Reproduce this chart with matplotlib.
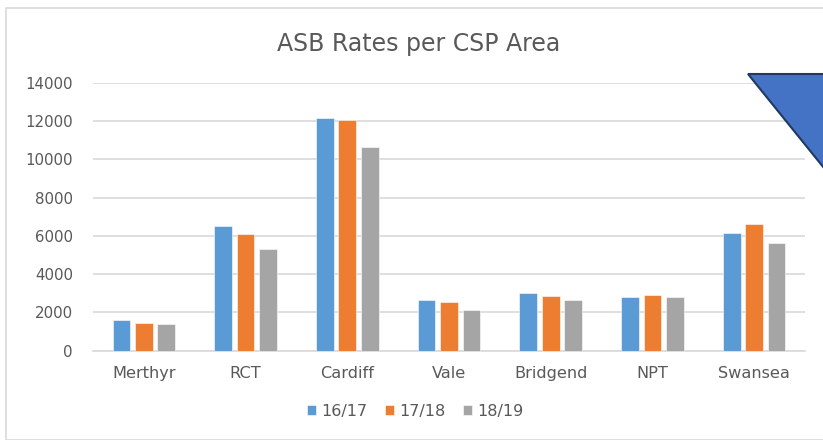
import numpy as np
import matplotlib.pyplot as plt
from matplotlib.patches import Polygon, Rectangle

areas = ["Merthyr", "RCT", "Cardiff", "Vale", "Bridgend", "NPT", "Swansea"]
y1617 = [1625, 6500, 12150, 2640, 3000, 2800, 6150]
y1718 = [1470, 6100, 12040, 2550, 2850, 2900, 6600]
y1819 = [1415, 5330, 10630, 2130, 2650, 2800, 5650]
series = ["16/17", "17/18", "18/19"]
colors = ["#5B9BD5", "#ED7D31", "#A5A5A5"]
yticks = [0, 2000, 4000, 6000, 8000, 10000, 12000, 14000]

plt.rcParams['font.family'] = ['DejaVu Sans']
txt = "#595959"
grid = "#D9D9D9"

W, H = 823, 440
fig = plt.figure(figsize=(W / 100, H / 100), dpi=100)

# chart border
fig.patches.append(Rectangle((6 / W, 1 - 440 / H), 1, (440 - 8) / H,
                             transform=fig.transFigure, fill=False,
                             edgecolor=grid, lw=1.2))

ax = fig.add_axes([93 / W, 1 - 350.7 / H, 712 / W, 268 / H])
x = np.arange(len(areas))
w = 0.174
step = 0.22
for i, (vals, name) in enumerate(zip([y1617, y1718, y1819], series)):
    ax.bar(x + (i - 1) * step, vals, w, color=colors[i], label=name,
           edgecolor="white", linewidth=0.4, zorder=3)

ax.set_xlim(-0.5, len(areas) - 0.5)
ax.set_ylim(0, 14000)
ax.set_yticks(yticks)
ax.set_xticks(x)
ax.set_xticklabels(areas)
ax.yaxis.grid(True, color=grid, lw=1.2, zorder=0)
for s in ["top", "right", "left"]:
    ax.spines[s].set_visible(False)
ax.spines["bottom"].set_color(grid)
ax.spines["bottom"].set_linewidth(1.2)
ax.tick_params(axis="both", length=0, colors=txt)
ax.tick_params(axis="y", pad=14.4, labelsize=10.8)
ax.tick_params(axis="x", pad=11, labelsize=11.6)

fig.text(419 / W, 1 - 44 / H, "ASB Rates per CSP Area", ha="center",
         va="center", fontsize=17, color=txt)

leg = fig.legend(loc="center", bbox_to_anchor=(415 / W, 1 - 411 / H), ncol=3,
                 frameon=False, fontsize=11.5, handlelength=0.6,
                 handleheight=0.6, columnspacing=1.1, handletextpad=0.3)
for t in leg.get_texts():
    t.set_color(txt)

# blue triangle shape in top-right corner
slope = (167 - 74) / (823 - 748)
pts = [(748, 74), (900, 74), (900, 74 + (900 - 748) * slope)]
fig.patches.append(Polygon([(px / W, 1 - py / H) for px, py in pts],
                           closed=True, transform=fig.transFigure,
                           facecolor="#4472C4", edgecolor="#203864", lw=1.5))

fig.savefig("out.png", dpi=100)
